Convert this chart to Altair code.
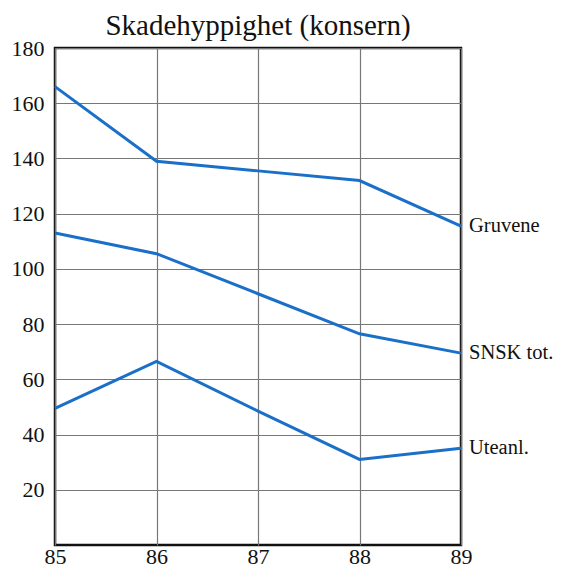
import altair as alt
import pandas as pd

years = [85, 86, 87, 88, 89]
gruvene = [166, 139, 135.5, 132, 115.5]
snsk = [113, 105.5, 91, 76.5, 69.5]
uteanl = [49.5, 66.5, 48.5, 31, 35]
series_names = ["Gruvene", "SNSK tot.", "Uteanl."]
y_ticks = [20, 40, 60, 80, 100, 120, 140, 160, 180]

rows = []
for name, vals in zip(series_names, [gruvene, snsk, uteanl]):
    for yr, v in zip(years, vals):
        rows.append({"year": yr, "value": v, "series": name})
df = pd.DataFrame(rows)

FONT = "Liberation Serif"

x = alt.X("year:Q", scale=alt.Scale(domain=[85, 89], nice=False, zero=False),
          axis=alt.Axis(values=years, format="d", title=None, grid=True, ticks=False,
                        domain=False, labelFont=FONT, labelFontSize=22, labelColor="#111",
                        labelPadding=1, labelBaseline="top", gridColor="#777",
                        gridWidth=1.2, labelFlush=False))
y = alt.Y("value:Q", scale=alt.Scale(domain=[0, 180], nice=False),
          axis=alt.Axis(values=y_ticks, title=None, grid=True, ticks=False, domain=False,
                        labelFont=FONT, labelFontSize=22, labelColor="#111",
                        labelPadding=11, gridColor="#777", gridWidth=1.2))

lines = alt.Chart(df).mark_line(color="#1a6fc9", strokeWidth=3).encode(
    x=x, y=y, detail="series:N")

labels = alt.Chart(df).transform_filter(alt.datum.year == 89).mark_text(
    align="left", baseline="middle", dx=8, font=FONT, fontSize=20.5, color="#111"
).encode(x="year:Q", y="value:Q", text="series:N")

chart = alt.layer(lines, labels).properties(
    width=406, height=497,
    title=alt.TitleParams("Skadehyppighet (konsern)", font=FONT, fontSize=29,
                          fontWeight="normal", color="#111", anchor="middle", offset=-4),
    autosize=alt.AutoSizeParams(type="none"),
    padding={"left": 47, "top": 40, "right": 95, "bottom": 27},
).configure_view(stroke="#111", strokeWidth=2.5)

chart.save("out.html", embed_options={"renderer": "svg", "actions": False})
